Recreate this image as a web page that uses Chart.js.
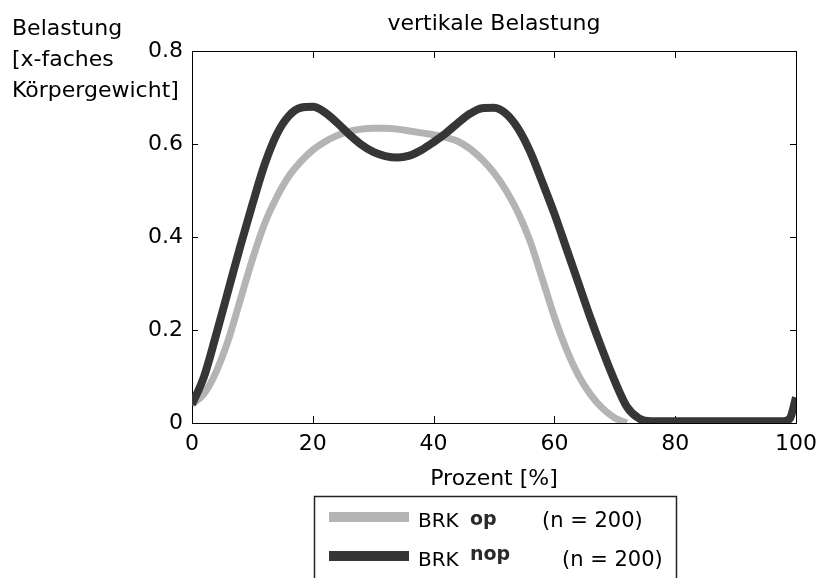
<!DOCTYPE html>
<html>
<head>
<meta charset="utf-8">
<script src="https://cdn.jsdelivr.net/npm/chart.js@4/dist/chart.umd.min.js"></script>
<style>
  body { margin: 0; background: #fff; }
  #wrap { width: 820px; height: 578px; }
</style>
</head>
<body>
<div id="wrap"><canvas id="loadChart" width="820" height="578"></canvas></div>
<script>
// --- Daten ---
const percent = [0, 2, 4, 6, 8, 10, 12, 14, 16, 18, 20, 22, 24, 26, 28, 30, 32, 34, 36, 38, 40,
  42, 44, 46, 48, 50, 52, 54, 56, 58, 60, 62, 64, 66, 68, 70, 72, 74, 76, 78, 80, 85, 90, 95, 98, 99, 100];

// BRK op (grau)
const brkOp = [0.04, 0.063, 0.11, 0.178, 0.265, 0.352, 0.428, 0.485, 0.53, 0.562, 0.587, 0.605, 0.618,
  0.627, 0.632, 0.634, 0.634, 0.632, 0.628, 0.624, 0.62, 0.614, 0.606, 0.59, 0.567, 0.538, 0.5,
  0.452, 0.39, 0.31, 0.228, 0.158, 0.102, 0.061, 0.031, 0.011, 0.0,
  null, null, null, null, null, null, null, null, null, null];

// BRK nop (dunkel)
const brkNop = [0.04, 0.10, 0.19, 0.285, 0.38, 0.47, 0.555, 0.62, 0.66, 0.678, 0.68, 0.668, 0.646,
  0.621, 0.599, 0.583, 0.574, 0.571, 0.575, 0.587, 0.604, 0.623, 0.645, 0.665, 0.677, 0.678, 0.665,
  0.633, 0.583, 0.518, 0.45, 0.375, 0.30, 0.225, 0.155, 0.09, 0.035, 0.01, 0.004, 0.004, 0.004,
  0.004, 0.004, 0.004, 0.004, 0.01, 0.055];

const xTicks = [0, 20, 40, 60, 80, 100];
const yTicks = [0, 0.2, 0.4, 0.6, 0.8];

const titleText = 'vertikale Belastung';
const yLabelLines = ['Belastung', '[x-faches', 'Körpergewicht]'];
const xLabel = 'Prozent [%]';
const legendItems = [
  { name: 'BRK', sub: 'op', n: '(n = 200)', color: '#b4b4b4' },
  { name: 'BRK', sub: 'nop', n: '(n = 200)', color: '#363636' }
];

const FONT = 'DejaVu Sans';
Chart.defaults.font.family = FONT;
Chart.defaults.font.size = 22;
Chart.defaults.color = '#000';

function toPoints(vals) {
  return percent.map((p, i) => ({ x: p, y: vals[i] }));
}

// Rahmen + Ticks nach innen (MATLAB-Stil)
const framePlugin = {
  id: 'frame',
  beforeDatasetsDraw(chart) {
    const { ctx, chartArea: a, scales } = chart;
    ctx.save();
    ctx.strokeStyle = '#000';
    ctx.lineWidth = 1;
    ctx.strokeRect(a.left + 0.5, a.top + 0.5, a.right - a.left, a.bottom - a.top);
    ctx.beginPath();
    scales.x.ticks.forEach(t => {
      const px = Math.round(scales.x.getPixelForValue(t.value)) + 0.5;
      ctx.moveTo(px, a.bottom); ctx.lineTo(px, a.bottom - 7);
      ctx.moveTo(px, a.top); ctx.lineTo(px, a.top + 7);
    });
    scales.y.ticks.forEach(t => {
      const py = Math.round(scales.y.getPixelForValue(t.value)) + 0.5;
      ctx.moveTo(a.left, py); ctx.lineTo(a.left + 6, py);
      ctx.moveTo(a.right, py); ctx.lineTo(a.right - 6, py);
    });
    ctx.stroke();
    ctx.restore();
  },
  afterDraw(chart) {
    const { ctx, chartArea: a } = chart;
    ctx.save();
    ctx.fillStyle = '#000';
    ctx.textBaseline = 'alphabetic';

    // Titel
    ctx.font = '22px "' + FONT + '"';
    ctx.textAlign = 'center';
    ctx.fillText(titleText, (a.left + a.right) / 2, 30);

    // Y-Beschriftung oben links
    ctx.textAlign = 'left';
    yLabelLines.forEach((line, i) => ctx.fillText(line, 12, 35 + i * 31));

    // Legende
    const box = { left: 314, top: 496, right: 676 };
    ctx.strokeStyle = '#222';
    ctx.lineWidth = 1.5;
    ctx.strokeRect(box.left + 0.5, box.top + 0.5, box.right - box.left, 120);

    legendItems.forEach((it, i) => {
      const cy = 517 + i * 39;
      ctx.strokeStyle = it.color;
      ctx.lineWidth = 10;
      ctx.beginPath();
      ctx.moveTo(329, cy); ctx.lineTo(409, cy);
      ctx.stroke();

      ctx.fillStyle = '#000';
      ctx.font = '20px "' + FONT + '"';
      ctx.fillText(it.name, 418, cy + 10);
      ctx.fillStyle = '#2a2a2a';
      ctx.font = 'bold 19px "' + FONT + '"';
      ctx.fillText(it.sub, 470, cy + 8 - i * 4);
      ctx.fillStyle = '#000';
      ctx.font = '21px "' + FONT + '"';
      ctx.fillText(it.n, i === 0 ? 542 : 562, cy + 10);
    });
    ctx.restore();
  }
};

const ctx = document.getElementById('loadChart').getContext('2d');
const loadChart = new Chart(ctx, {
  type: 'line',
  data: {
    datasets: [
      {
        label: 'BRK op',
        data: toPoints(brkOp),
        borderColor: legendItems[0].color,
        borderWidth: 7,
        pointRadius: 0,
        fill: false,
        cubicInterpolationMode: 'monotone',
        spanGaps: false,
        order: 1
      },
      {
        label: 'BRK nop',
        data: toPoints(brkNop),
        borderColor: legendItems[1].color,
        borderWidth: 8,
        pointRadius: 0,
        fill: false,
        cubicInterpolationMode: 'monotone',
        order: 0
      }
    ]
  },
  options: {
    responsive: false,
    animation: false,
    devicePixelRatio: 1,
    layout: { padding: { top: 51, right: 24, left: 0, bottom: 0 } },
    plugins: {
      legend: { display: false },
      title: { display: false },
      tooltip: { enabled: false }
    },
    scales: {
      x: {
        type: 'linear',
        min: 0,
        max: 100,
        afterBuildTicks: s => { s.ticks = xTicks.map(v => ({ value: v })); },
        afterFit: s => { s.height = 578 - 423; s.paddingLeft = 0; s.paddingRight = 0; },
        grid: { display: false, drawTicks: false },
        border: { display: false },
        ticks: { padding: 8, maxRotation: 0, color: '#000', font: { size: 22 } },
        title: {
          display: true,
          text: xLabel,
          color: '#000',
          font: { size: 22 },
          padding: { top: 0, bottom: 86 }
        }
      },
      y: {
        min: 0,
        max: 0.8,
        afterBuildTicks: s => { s.ticks = yTicks.map(v => ({ value: v })); },
        afterFit: s => { s.width = 192; s.paddingTop = 0; s.paddingBottom = 0; },
        grid: { display: false, drawTicks: false },
        border: { display: false },
        ticks: {
          padding: 9,
          color: '#000',
          font: { size: 22 },
          callback: v => String(Math.round(v * 10) / 10)
        }
      }
    }
  },
  plugins: [framePlugin]
});
</script>
</body>
</html>
